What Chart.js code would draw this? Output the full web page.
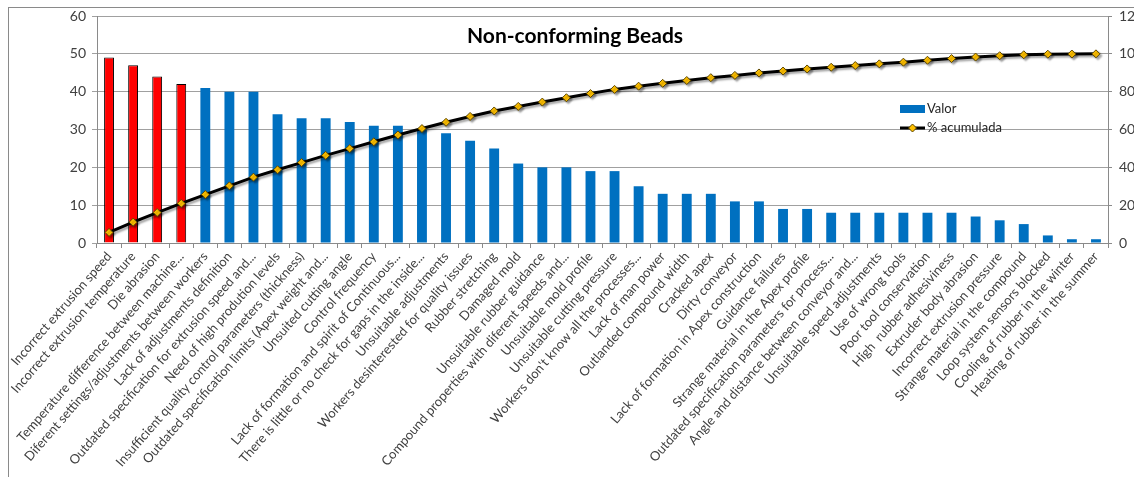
<!DOCTYPE html>
<html>
<head>
<meta charset="utf-8">
<title>Non-conforming Beads</title>
<script src="https://cdn.jsdelivr.net/npm/chart.js@4"></script>
<style>
  body { margin: 0; background: #fff; overflow: hidden; }
  #frame { position: absolute; left: 8px; top: 7px; width: 1300px; height: 600px;
           border-left: 1px solid #8a8a8a; border-top: 1px solid #8a8a8a; }
  #pareto { position: absolute; left: 0; top: 0; }
</style>
</head>
<body>
<div id="frame"></div>
<canvas id="pareto" width="1150" height="477"></canvas>
<script>
// defect causes, sorted by count
const causes = [
  'Incorrect extrusion speed',
  'Incorrect extrusion temperature',
  'Die abrasion',
  'Temperature difference between machine...',
  'Diferent settings/adjustments between workers',
  'Lack of adjustments definition',
  'Outdated specification for extrusion speed and...',
  'Need of high prodution levels',
  'Insufficient quality control parameters (thickness)',
  'Outdated specification limits (Apex weight and...',
  'Unsuited cutting angle',
  'Control frequency',
  'Lack of formation and spirit of Continuous...',
  'There is little or no check for gaps in the inside...',
  'Unsuitable adjustments',
  'Workers desinterested for quality issues',
  'Rubber stretching',
  'Damaged mold',
  'Unsuitable rubber guidance',
  'Compound properties with diferent speeds and...',
  'Unsuitable mold profile',
  'Unsuitable cutting pressure',
  "Workers don't know all the processes...",
  'Lack of man power',
  'Outlanded compound width',
  'Cracked apex',
  'Dirty conveyor',
  'Lack of formation in Apex construction',
  'Guidance failures',
  'Strange material in the Apex profile',
  'Outdated specification parameters for process...',
  'Angle and distance between conveyor and...',
  'Unsuitable speed adjustments',
  'Use of wrong tools',
  'Poor tool conservation',
  'High  rubber adhesiviness',
  'Extruder body abrasion',
  'Incorrect extrusion pressure',
  'Strange material in the compound',
  'Loop system sensors blocked',
  'Cooling of rubber in the winter',
  'Heating of rubber in the summer'
];

const valor = [49, 47, 44, 42, 41, 40, 40, 34, 33, 33, 32, 31, 31, 30, 29, 27, 25, 21, 20, 20, 19,
               19, 15, 13, 13, 13, 11, 11, 9, 9, 8, 8, 8, 8, 8, 8, 7, 6, 5, 2, 1, 1];

const acumulada = [5.6, 11.0, 16.1, 20.9, 25.6, 30.2, 34.8, 38.7, 42.5, 46.3, 49.9, 53.5, 57.1, 60.5,
                   63.8, 66.9, 69.8, 72.2, 74.5, 76.8, 79.0, 81.2, 82.9, 84.4, 85.9, 87.4, 88.6, 89.9,
                   90.9, 92.0, 92.9, 93.8, 94.7, 95.6, 96.6, 97.5, 98.3, 99.0, 99.5, 99.8, 99.9, 100];

const leftTicks = [0, 10, 20, 30, 40, 50, 60];
const rightTicks = [0, 20, 40, 60, 80, 100, 120];

// the first few causes are the "vital few"
const vitalFew = 4;

const FONT = 'Lato, "Open Sans", sans-serif';

const barColors = valor.map((v, i) => i < vitalFew ? '#FF0000' : '#0070C0');
const barBorders = valor.map((v, i) => i < vitalFew ? 1 : 0);

function useTicks(list) {
  return function (scale) {
    scale.ticks = list.map(v => ({ value: v }));
  };
}

// soft shadow under the cumulative line
const lineShadow = {
  id: 'lineShadow',
  beforeDatasetDraw(chart, args) {
    if (args.index !== 1) return;
    const ctx = chart.ctx;
    ctx.save();
    ctx.shadowColor = 'rgba(0,0,0,0.35)';
    ctx.shadowOffsetX = 2;
    ctx.shadowOffsetY = 2;
    ctx.shadowBlur = 2;
  },
  afterDatasetDraw(chart, args) {
    if (args.index !== 1) return;
    chart.ctx.restore();
  }
};

// title and legend sit inside the plot area
const overlay = {
  id: 'overlay',
  afterDraw(chart) {
    const ctx = chart.ctx;
    ctx.save();
    ctx.fillStyle = '#000';
    ctx.font = 'bold 21px ' + FONT;
    ctx.textAlign = 'center';
    ctx.textBaseline = 'alphabetic';
    ctx.fillText('Non-conforming Beads', 575, 43);

    const lx = 900, ly = 109;
    ctx.fillStyle = '#0070C0';
    ctx.fillRect(lx, ly - 4, 25, 8);

    ctx.strokeStyle = '#000';
    ctx.lineWidth = 3;
    ctx.beginPath();
    ctx.moveTo(lx, ly + 19);
    ctx.lineTo(lx + 25, ly + 19);
    ctx.stroke();
    const cx = lx + 12.5, cy = ly + 19, r = 4;
    ctx.beginPath();
    ctx.moveTo(cx, cy - r);
    ctx.lineTo(cx + r, cy);
    ctx.lineTo(cx, cy + r);
    ctx.lineTo(cx - r, cy);
    ctx.closePath();
    ctx.fillStyle = '#FFC000';
    ctx.fill();
    ctx.lineWidth = 1;
    ctx.strokeStyle = '#5a4500';
    ctx.stroke();

    ctx.fillStyle = '#262626';
    ctx.font = '13px ' + FONT;
    ctx.textAlign = 'left';
    ctx.textBaseline = 'middle';
    ctx.fillText('Valor', lx + 27, ly);
    ctx.fillText('% acumulada', lx + 27, ly + 19);
    ctx.restore();
  }
};

const ctx = document.getElementById('pareto').getContext('2d');
const chart = new Chart(ctx, {
  type: 'bar',
  data: {
    labels: causes,
    datasets: [
      {
        type: 'bar',
        label: 'Valor',
        data: valor,
        yAxisID: 'y',
        backgroundColor: barColors,
        borderColor: '#000',
        borderWidth: barBorders,
        barPercentage: 0.41,
        categoryPercentage: 1,
        order: 1
      },
      {
        type: 'line',
        label: '% acumulada',
        data: acumulada,
        yAxisID: 'y1',
        borderColor: '#000',
        borderWidth: 3,
        tension: 0,
        pointStyle: 'rectRot',
        pointRadius: 4,
        pointBackgroundColor: '#FFC000',
        pointBorderColor: '#5a4500',
        pointBorderWidth: 1,
        order: 0
      }
    ]
  },
  options: {
    responsive: false,
    animation: false,
    layout: { padding: { top: 16, left: 0, right: 0, bottom: 0 } },
    plugins: {
      legend: { display: false },
      title: { display: false },
      tooltip: { enabled: false }
    },
    scales: {
      x: {
        offset: true,
        grid: { display: true, drawOnChartArea: false, drawTicks: true, tickLength: 5,
                offset: true, color: '#8a8a8a' },
        border: { color: '#8a8a8a' },
        ticks: {
          autoSkip: false,
          maxRotation: 49,
          minRotation: 49,
          padding: 1,
          color: '#404040',
          font: { family: FONT, size: 13 }
        },
        afterFit(scale) { scale.height = 234; }
      },
      y: {
        position: 'left',
        min: 0,
        max: 60,
        afterBuildTicks: useTicks(leftTicks),
        grid: { color: '#a0a0a0', tickLength: 5 },
        border: { color: '#8a8a8a' },
        ticks: { padding: 6, color: '#404040', font: { family: FONT, size: 14 } },
        afterFit(scale) { scale.width = 97; }
      },
      y1: {
        position: 'right',
        min: 0,
        max: 120,
        afterBuildTicks: useTicks(rightTicks),
        grid: { drawOnChartArea: false, tickLength: 4, color: '#8a8a8a' },
        border: { color: '#8a8a8a' },
        ticks: { padding: 7, color: '#404040', font: { family: FONT, size: 14 } },
        afterFit(scale) { scale.width = 42; }
      }
    }
  },
  plugins: [lineShadow, overlay]
});
</script>
</body>
</html>
